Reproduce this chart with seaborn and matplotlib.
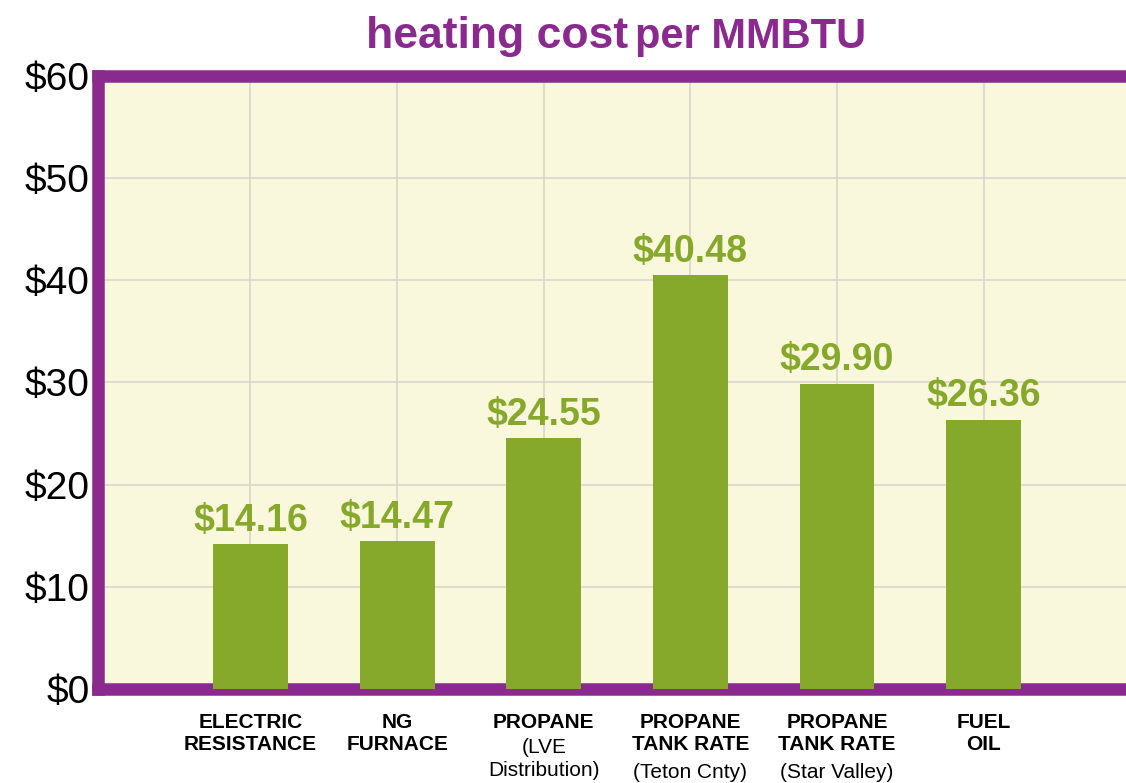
import matplotlib.pyplot as plt
import pandas as pd
import seaborn as sns

# --- data ---
categories = ["ELECTRIC RESISTANCE", "NG FURNACE", "PROPANE (LVE)",
              "PROPANE TANK (Teton)", "PROPANE TANK (Star Valley)", "FUEL OIL"]
costs = [14.16, 14.47, 24.55, 40.48, 29.90, 26.36]
bold_labels = ["ELECTRIC\nRESISTANCE", "NG\nFURNACE", "PROPANE",
               "PROPANE\nTANK RATE", "PROPANE\nTANK RATE", "FUEL\nOIL"]
sub_labels = ["", "", "(LVE\nDistribution)", "(Teton Cnty)", "(Star Valley)", ""]
y_ticks = [0, 10, 20, 30, 40, 50, 60]

purple = "#8a2a8e"
green = "#86a82b"
cream = "#faf8dc"

df = pd.DataFrame({"category": categories, "cost": costs})

sns.set_theme(style="whitegrid", rc={
    "axes.facecolor": cream,
    "grid.color": "#d9d7cc",
    "grid.linewidth": 1.2,
})
plt.rcParams["font.family"] = ["Liberation Sans", "DejaVu Sans"]

fig = plt.figure(figsize=(11.26, 7.83), dpi=100)
fig.patch.set_facecolor("white")
ax = fig.add_axes([0.087, 0.12, 0.913, 0.783])

sns.barplot(data=df, x="category", y="cost", color=green, saturation=1,
            width=0.51, linewidth=0, ax=ax, zorder=3)

# value labels above bars
ax.bar_label(ax.containers[0], labels=[f"${v:.2f}" for v in costs],
             padding=4, color=green, fontsize=27, fontweight="bold")

ax.set_xlim(-1.04, 5.97)
ax.set_ylim(0, 60)
ax.set_yticks(y_ticks)
ax.set_yticklabels([f"${v}" for v in y_ticks], fontsize=28, color="black")
ax.tick_params(axis="y", length=0, pad=6)
ax.tick_params(axis="x", length=0)
ax.set_xticklabels([])
ax.set_xlabel("")
ax.set_ylabel("")
ax.grid(True, axis="both", zorder=0)
ax.set_axisbelow(True)

for side in ["left", "top", "bottom"]:
    ax.spines[side].set_color(purple)
    ax.spines[side].set_linewidth(9)
    ax.spines[side].set_visible(True)
ax.spines["right"].set_visible(False)

# category labels: bold lines, then plain parenthetical lines
for i, (b, s) in enumerate(zip(bold_labels, sub_labels)):
    ax.annotate(b, xy=(i, 0), xycoords=("data", "axes fraction"),
                xytext=(0, -17), textcoords="offset points",
                ha="center", va="top", fontsize=15, fontweight="bold",
                linespacing=1.25, color="black")
    if s:
        nb = b.count("\n") + 1
        ax.annotate(s, xy=(i, 0), xycoords=("data", "axes fraction"),
                    xytext=(0, -17 - nb * 18.2), textcoords="offset points",
                    ha="center", va="top", fontsize=15,
                    linespacing=1.25, color="black")

# title with heavier first part
fig.text(0.558, 0.953, "heating cost", ha="right", va="center",
         fontsize=32, fontweight="heavy", color=purple)
fig.text(0.564, 0.953, "per MMBTU", ha="left", va="center",
         fontsize=30, fontweight="bold", color=purple)

fig.savefig("out.png", dpi=100)
